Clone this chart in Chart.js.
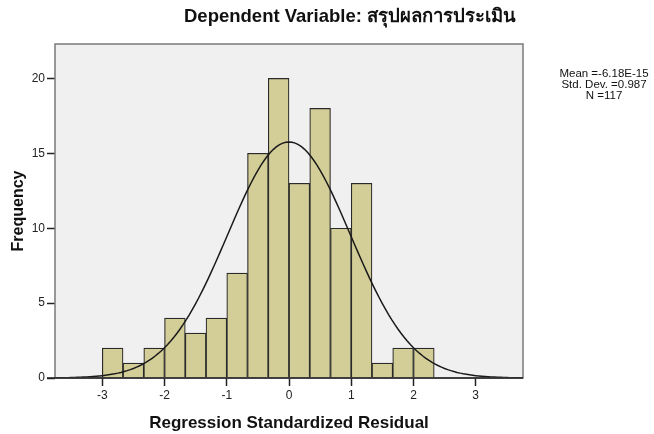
<!DOCTYPE html>
<html>
<head>
<meta charset="utf-8">
<script src="https://cdn.jsdelivr.net/npm/chart.js@4"></script>
<style>
	html, body { margin: 0; padding: 0; background: #fff; }
	.wrap { width: 654px; height: 434px; }
</style>
</head>
<body>
<div class="wrap"><canvas id="chart" width="654" height="434"></canvas></div>
<script>
// bins of width 1/3 starting at -3
const binStarts = [-3, -2.6667, -2.3333, -2, -1.6667, -1.3333, -1, -0.6667, -0.3333, 0, 0.3333, 0.6667, 1, 1.3333, 1.6667, 2];
const counts = [2, 1, 2, 4, 3, 4, 7, 15, 20, 13, 18, 10, 13, 1, 2, 2];
const binWidth = 1 / 3;
const xTicks = [-3, -2, -1, 0, 1, 2, 3];
const yTicks = [0, 5, 10, 15, 20];
const mean = -6.18e-15;
const stdDev = 0.987;
const n = 117;
const statLines = ['Mean =-6.18E-15', 'Std. Dev. =0.987', 'N =117'];
const titleText = 'Dependent Variable: สรุปผลการประเมิน';

const bars = binStarts.map((s, i) => ({ x: s + binWidth / 2, y: counts[i] }));

// fitted normal curve from the shown mean / sd / N
const curve = [];
for (let x = -3.8; x <= 3.8; x += 0.05) {
	const z = (x - mean) / stdDev;
	curve.push({ x: x, y: n * binWidth * Math.exp(-z * z / 2) / (stdDev * Math.sqrt(2 * Math.PI)) });
}

const frame = {
	id: 'frame',
	beforeDatasetsDraw(chart) {
		const { ctx, chartArea: a } = chart;
		ctx.save();
		ctx.fillStyle = '#f0f0f0';
		ctx.fillRect(a.left, a.top, a.right - a.left, a.bottom - a.top);
		ctx.restore();
	},
	afterDraw(chart) {
		const { ctx, chartArea: a } = chart;
		ctx.save();
		ctx.strokeStyle = '#7a7a7a';
		ctx.lineWidth = 1.5;
		ctx.strokeRect(a.left, a.top, a.right - a.left, a.bottom - a.top);
		ctx.strokeStyle = '#222';
		ctx.beginPath();
		ctx.moveTo(a.left - 8, a.bottom);
		ctx.lineTo(a.right, a.bottom);
		ctx.stroke();
		ctx.fillStyle = '#111';
		ctx.textAlign = 'center';
		ctx.textBaseline = 'middle';
		ctx.font = 'bold 18.5px "Liberation Sans", Arial';
		ctx.fillText(titleText, 350, 17);
		ctx.font = '11.5px "Liberation Sans", Arial';
		statLines.forEach((t, i) => ctx.fillText(t, 604, 74 + i * 11));
		ctx.restore();
	}
};

new Chart(document.getElementById('chart'), {
	data: {
		datasets: [
			{
				type: 'line',
				data: curve,
				borderColor: '#1a1a1a',
				borderWidth: 1.5,
				pointRadius: 0,
				order: 0,
			},
			{
				type: 'bar',
				data: bars,
				backgroundColor: '#d3ce97',
				borderColor: '#2a2a2a',
				borderWidth: 1.2,
				barPercentage: 1,
				categoryPercentage: 1,
				order: 1,
			},
		],
	},
	options: {
		responsive: false,
		animation: false,
		events: [],
		layout: {
			padding: { top: 44, right: 131, bottom: 0, left: 0 },
		},
		scales: {
			x: {
				type: 'linear',
				offset: false,
				min: -3.76,
				max: 3.76,
				afterBuildTicks: (scale) => {
					scale.ticks = xTicks.map((v) => ({ value: v }));
				},
				afterFit: (scale) => {
					scale.height = 56;
				},
				border: { display: false },
				grid: {
					offset: false,
					drawOnChartArea: false,
					drawTicks: true,
					tickLength: 8,
					color: '#222',
					tickWidth: 1.5,
				},
				ticks: {
					color: '#222',
					padding: 2,
					font: { family: '"Liberation Sans", Arial', size: 12 },
				},
				title: {
					display: true,
					text: 'Regression Standardized Residual',
					color: '#111',
					font: { family: '"Liberation Sans", Arial', size: 17, weight: 'bold' },
					padding: { top: 2, bottom: 0 },
				},
			},
			y: {
				min: 0,
				max: 22.3,
				afterBuildTicks: (scale) => {
					scale.ticks = yTicks.map((v) => ({ value: v }));
				},
				afterFit: (scale) => {
					scale.width = 55;
				},
				border: { display: false },
				grid: {
					drawOnChartArea: false,
					drawTicks: true,
					tickLength: 8,
					color: '#222',
					tickWidth: 1.5,
				},
				ticks: {
					color: '#222',
					padding: 2,
					font: { family: '"Liberation Sans", Arial', size: 12 },
				},
				title: {
					display: true,
					text: 'Frequency',
					color: '#111',
					font: { family: '"Liberation Sans", Arial', size: 16, weight: 'bold' },
					padding: { top: 9, bottom: 0 },
				},
			},
		},
		plugins: {
			legend: { display: false },
			tooltip: { enabled: false },
		},
	},
	plugins: [frame],
});
</script>
</body>
</html>
